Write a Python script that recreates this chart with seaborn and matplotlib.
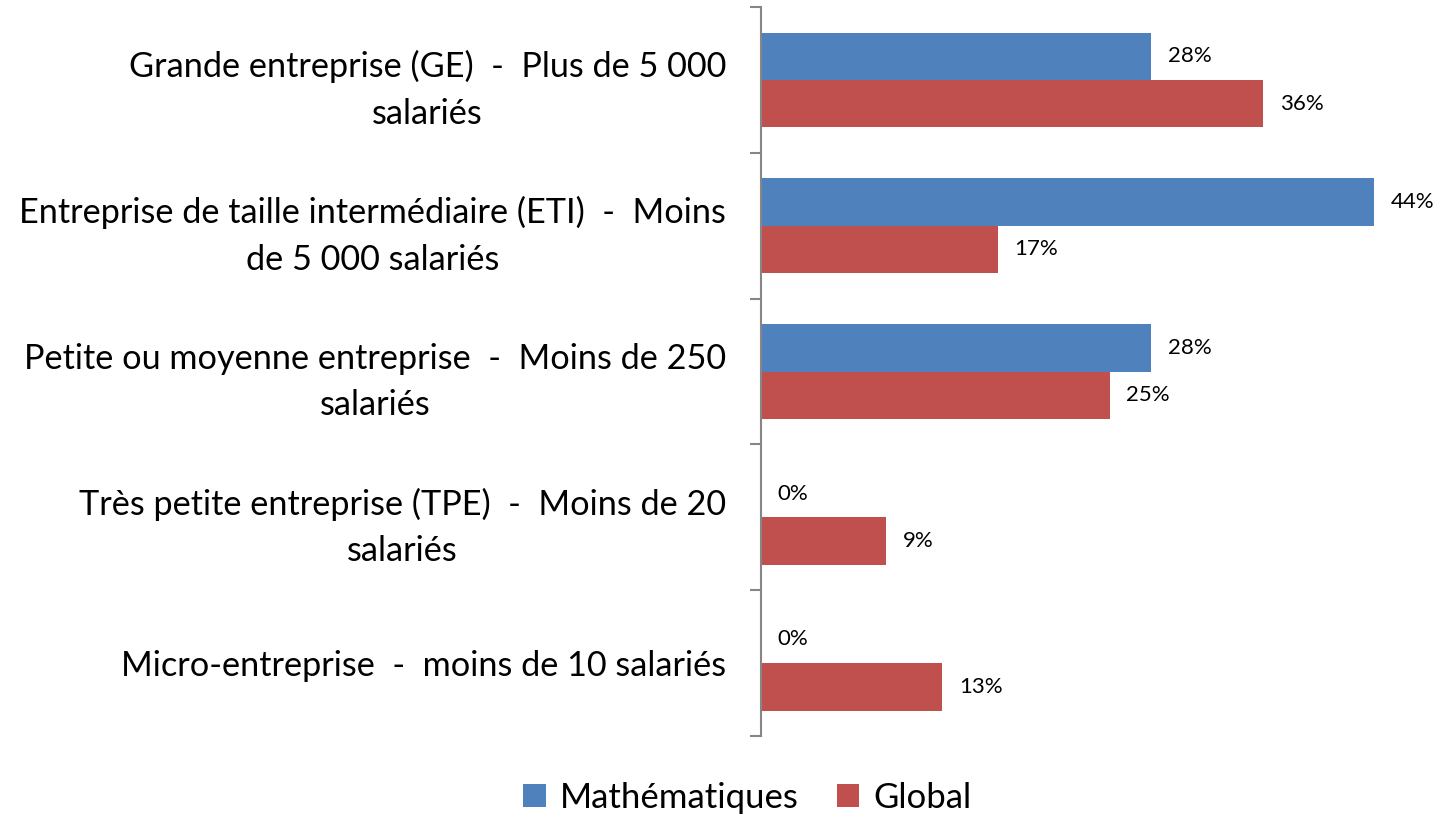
import numpy as np
import matplotlib
matplotlib.use('Agg')
import matplotlib.pyplot as plt
import seaborn as sns
import pandas as pd

categories = ['Grande entreprise (GE)  -  Plus de 5 000\nsalariés',
              'Entreprise de taille intermédiaire (ETI)  -  Moins\nde 5 000 salariés',
              'Petite ou moyenne entreprise  -  Moins de 250\nsalariés',
              'Très petite entreprise (TPE)  -  Moins de 20\nsalariés',
              'Micro-entreprise  -  moins de 10 salariés']
maths = [0.28, 0.44, 0.28, 0.0, 0.0]
global_vals = [0.36, 0.17, 0.25, 0.09, 0.13]
series = ['Mathématiques', 'Global']
colors = ['#4F81BD', '#C0504D']

df = pd.DataFrame({'cat': categories * 2,
                   'val': maths + global_vals,
                   'serie': [series[0]] * 5 + [series[1]] * 5})

sns.set_style('white')
plt.rcParams['font.family'] = ['Lato', 'DejaVu Sans']
plt.rcParams['text.color'] = 'black'
plt.rcParams['ytick.color'] = 'black'

fig = plt.figure(figsize=(14.47, 8.14), dpi=100)
ax = fig.add_axes([0.5259, 0.0958, 0.4741, 0.8956])

sns.barplot(data=df, y='cat', x='val', hue='serie', orient='h', palette=colors,
            width=0.65, saturation=1, linewidth=0, ax=ax, legend=True)

for c in ax.containers:
    ax.bar_label(c, labels=[f'{v*100:.0f}%' for v in c.datavalues], padding=12, fontsize=16)

ax.set_xlim(0, 0.492)
ax.set_ylim(4.5, -0.5)
ax.set_xlabel('')
ax.set_ylabel('')
ax.set_xticks([])
ax.set_yticks(range(5))
ax.set_yticklabels(categories, fontsize=24.7, multialignment='center', color='black', linespacing=1.55)
ax.tick_params(axis='y', which='major', length=0, pad=25)
ax.set_yticks(np.arange(-0.5, 5, 1), minor=True)
ax.tick_params(axis='y', which='minor', left=True, length=8, width=1.5, color='#868686', direction='out')
for s in ['top', 'right', 'bottom']:
    ax.spines[s].set_visible(False)
ax.spines['left'].set_color('#868686')
ax.spines['left'].set_linewidth(1.5)

ax.legend(loc='center', bbox_to_anchor=(-0.02, -0.085), ncol=2, frameon=False, fontsize=25,
          handlelength=0.65, handleheight=0.65, handletextpad=0.4, columnspacing=1.1)

fig.savefig('out.png', dpi=100)
